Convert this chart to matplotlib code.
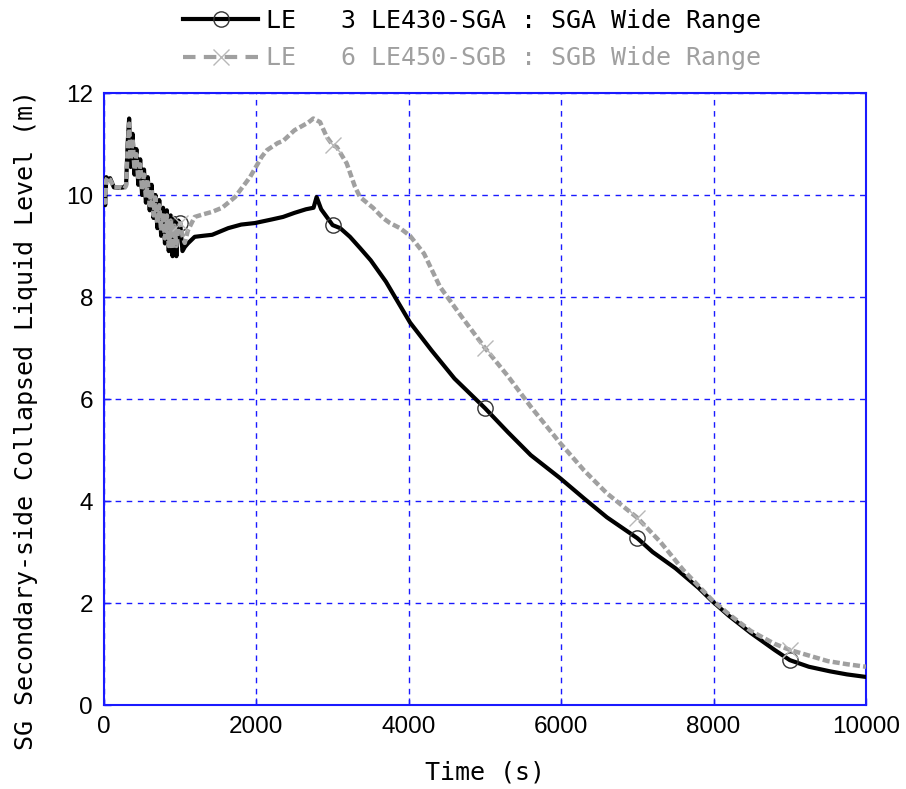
import numpy as np
import matplotlib.pyplot as plt
from matplotlib.lines import Line2D

# SGA wide range level (black)
t_a = [0, 15, 30, 50, 80, 130, 200, 260, 290, 310, 330, 350, 375, 400, 425, 450,
       475, 500, 525, 550, 575, 600, 625, 650, 675, 700, 725, 750, 775, 800,
       825, 850, 875, 900, 925, 950, 975, 1000, 1030, 1060, 1100, 1190, 1300,
       1420, 1630, 1800, 1980, 2200, 2350, 2500, 2650, 2750, 2790, 2850, 2923,
       3000, 3100, 3228, 3360, 3500, 3700, 4016, 4300, 4600, 5000, 5300, 5600,
       5984, 6300, 6600, 7000, 7200, 7500, 7800, 7979, 8200, 8490, 8800, 9000,
       9250, 9528, 9750, 10000]
level_a = [10.1, 9.8, 10.35, 10.3, 10.33, 10.15, 10.14, 10.15, 10.2, 11.0, 11.5,
           10.55, 11.2, 10.4, 10.9, 10.2, 10.7, 10.0, 10.5, 9.85, 10.35, 9.7,
           10.2, 9.55, 10.0, 9.35, 9.9, 9.2, 9.75, 9.05, 9.7, 8.9, 9.6, 8.8, 9.55,
           8.8, 9.5, 9.45, 8.9, 8.98, 9.05, 9.18, 9.2, 9.22, 9.35, 9.42, 9.45,
           9.52, 9.57, 9.65, 9.72, 9.75, 9.96, 9.72, 9.57, 9.41, 9.35, 9.18, 8.96,
           8.72, 8.3, 7.5, 6.95, 6.4, 5.82, 5.35, 4.9, 4.45, 4.05, 3.68, 3.27,
           3.0, 2.68, 2.3, 2.04, 1.75, 1.41, 1.08, 0.88, 0.75, 0.66, 0.6, 0.55]

# SGB wide range level (gray)
t_b = [0, 15, 30, 50, 80, 130, 200, 260, 290, 310, 330, 350, 375, 400, 425, 450,
       475, 500, 525, 550, 575, 600, 625, 650, 675, 700, 725, 750, 775, 800,
       825, 850, 875, 900, 925, 950, 975, 1000, 1030, 1060, 1100, 1190, 1300,
       1420, 1550, 1720, 1916, 2070, 2139, 2280, 2350, 2500, 2572, 2680, 2747,
       2835, 2923, 3000, 3055, 3185, 3294, 3360, 3530, 3660, 3753, 3885, 4016,
       4200, 4409, 4700, 5000, 5300, 5600, 5984, 6300, 6600, 7000, 7300, 7600,
       7979, 8200, 8490, 8800, 9000, 9250, 9500, 9750, 10000]
level_b = [10.1, 9.85, 10.3, 10.35, 10.3, 10.15, 10.15, 10.12, 10.18, 10.9, 11.4,
           10.7, 11.1, 10.5, 10.8, 10.3, 10.6, 10.1, 10.4, 9.95, 10.25, 9.8,
           10.1, 9.6, 9.95, 9.45, 9.8, 9.3, 9.65, 9.15, 9.6, 9.0, 9.5, 8.95, 9.4,
           9.0, 9.35, 9.45, 9.2, 9.06, 9.3, 9.57, 9.62, 9.67, 9.75, 9.96, 10.35,
           10.75, 10.88, 11.02, 11.06, 11.27, 11.33, 11.42, 11.5, 11.43, 11.14,
           10.98, 10.94, 10.62, 10.16, 9.96, 9.75, 9.55, 9.45, 9.35, 9.2, 8.85,
           8.2, 7.6, 7.0, 6.45, 5.85, 5.14, 4.6, 4.15, 3.67, 3.2, 2.65, 2.06,
           1.78, 1.45, 1.2, 1.08, 0.97, 0.86, 0.8, 0.75]

marker_times = [1000, 3000, 5000, 7000, 9000]
labels = ['LE   3 LE430-SGA : SGA Wide Range',
          'LE   6 LE450-SGB : SGB Wide Range']

mono = 'DejaVu Sans Mono'
tick_font = 'Liberation Sans'
blue = '#1a1aff'
gray = '#a0a0a0'

fig = plt.figure(figsize=(9.06, 7.89), dpi=100)
ax = fig.add_axes([104 / 906, 1 - 705 / 789, 762 / 906, 612 / 789])

idx_a = [t_a.index(m) for m in marker_times]
idx_b = [t_b.index(m) for m in marker_times]

ax.plot(t_a, level_a, color='black', lw=3.0,
        marker='o', markevery=idx_a, markersize=11, markeredgewidth=1.0,
        markerfacecolor='none', markeredgecolor='#333333', zorder=3)
ax.plot(t_b, level_b, color=gray, lw=3.2, dashes=(1.6, 0.7),
        marker='x', markevery=idx_b, markersize=11, markeredgewidth=1.0,
        markeredgecolor='#b8b8b8', zorder=4)

ax.set_xlim(0, 10000)
ax.set_ylim(0, 12)
ax.set_xticks(range(0, 10001, 2000))
ax.set_yticks(range(0, 13, 2))
ax.grid(True, color=blue, lw=1.0, linestyle=(0, (4, 4)))
for s in ax.spines.values():
    s.set_color(blue)
    s.set_linewidth(1.5)
ax.tick_params(direction='in', length=5, color=blue, width=1.0,
               labelsize=17.5, pad=8)
for lab in ax.get_xticklabels() + ax.get_yticklabels():
    lab.set_fontfamily(tick_font)

ax.set_xlabel('Time (s)', fontsize=18, family=mono, labelpad=16)
ax.set_ylabel('SG Secondary-side Collapsed Liquid Level (m)', fontsize=18,
              family=mono)
ax.yaxis.set_label_coords(-0.086, 0.466)

# legend proxies
h_a = Line2D([], [], color='black', lw=3.0, marker='o', markersize=11,
             markerfacecolor='none', markeredgecolor='#333333', markeredgewidth=1.0)
h_b = Line2D([], [], color=gray, lw=3.0, dashes=(3, 2), marker='x',
             markersize=11, markeredgecolor='#b8b8b8', markeredgewidth=1.0)
leg = fig.legend([h_a, h_b], labels, loc='upper left',
                 bbox_to_anchor=(183 / 906, 1 - 9 / 789), frameon=False,
                 prop={'family': mono, 'size': 18}, handlelength=3.0,
                 handletextpad=0.3, labelspacing=0.53, borderpad=0,
                 borderaxespad=0)
for txt, c in zip(leg.get_texts(), ['black', gray]):
    txt.set_color(c)

fig.savefig('out.png', dpi=100)
